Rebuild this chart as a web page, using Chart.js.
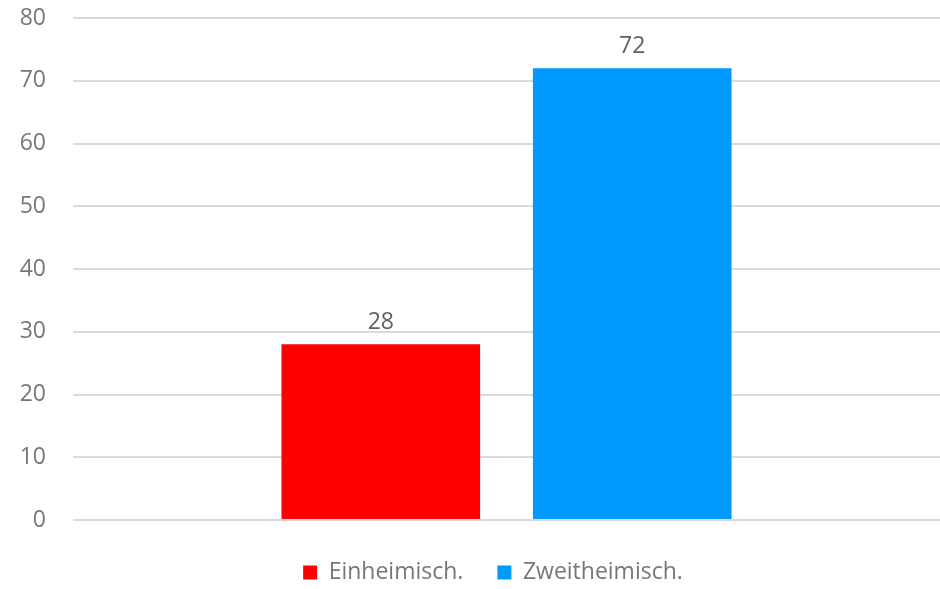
<!DOCTYPE html>
<html>
<head>
<meta charset="utf-8">
<script src="https://cdn.jsdelivr.net/npm/chart.js@4.4.0/dist/chart.umd.min.js"></script>
<style>
  html, body { margin: 0; padding: 0; background: #fff; }
  #wrap { width: 940px; height: 589px; position: relative; }
</style>
</head>
<body>
<div id="wrap"><canvas id="chart"></canvas></div>
<script>
// --- Data ---
const categories = [''];
const seriesNames = ['Einheimisch.', 'Zweitheimisch.'];
const seriesValues = [[28], [72]];
const seriesColors = ['#ff0000', '#0099ff'];
const yTicks = [0, 10, 20, 30, 40, 50, 60, 70, 80];

const FONT = '"Open Sans", Roboto, sans-serif';

// value labels above the bars
const valueLabels = {
  id: 'valueLabels',
  afterDatasetsDraw(chart) {
    const ctx = chart.ctx;
    ctx.save();
    ctx.font = '23px ' + FONT;
    ctx.fillStyle = '#5f5f5f';
    ctx.textAlign = 'center';
    ctx.textBaseline = 'alphabetic';
    chart.data.datasets.forEach((ds, i) => {
      chart.getDatasetMeta(i).data.forEach((bar, j) => {
        ctx.fillText(ds.data[j], bar.x, bar.y - 15);
      });
    });
    ctx.restore();
  }
};

// fixed legend height so item spacing can be wide without eating the plot,
// and nudge it to where the original sits
const legendHeight = {
  id: 'legendHeight',
  afterInit(chart) {
    const lg = chart.legend;
    const fit = lg.fit.bind(lg);
    lg.fit = function () {
      fit();
      this.height = 69;
    };
  },
  afterLayout(chart) {
    const lg = chart.legend;
    lg.top += 7;
    lg.bottom += 7;
    lg.left += 23;
    lg.right += 23;
  }
};

new Chart(document.getElementById('chart'), {
  type: 'bar',
  data: {
    labels: categories,
    datasets: seriesNames.map((name, i) => ({
      label: name,
      data: seriesValues[i],
      backgroundColor: seriesColors[i],
      borderWidth: 0,
      categoryPercentage: 0.58,
      barPercentage: 0.79
    }))
  },
  options: {
    responsive: true,
    maintainAspectRatio: false,
    animation: false,
    layout: { padding: { top: 18, right: 0, bottom: 0, left: 0 } },
    plugins: {
      tooltip: { enabled: false },
      legend: {
        position: 'bottom',
        labels: {
          boxWidth: 14,
          boxHeight: 14,
          padding: 34,
          color: '#777',
          font: { family: FONT, size: 23 }
        }
      }
    },
    scales: {
      x: {
        display: false
      },
      y: {
        min: yTicks[0],
        max: yTicks[yTicks.length - 1],
        afterBuildTicks: axis => { axis.ticks = yTicks.map(v => ({ value: v })); },
        afterFit: axis => { axis.width = 73; axis.paddingTop = 0; axis.paddingBottom = 0; },
        grid: { color: '#dadada', lineWidth: 2, drawTicks: false },
        border: { display: false },
        ticks: {
          color: '#777',
          padding: 27,
          font: { family: FONT, size: 23 }
        }
      }
    }
  },
  plugins: [valueLabels, legendHeight]
});
</script>
</body>
</html>
